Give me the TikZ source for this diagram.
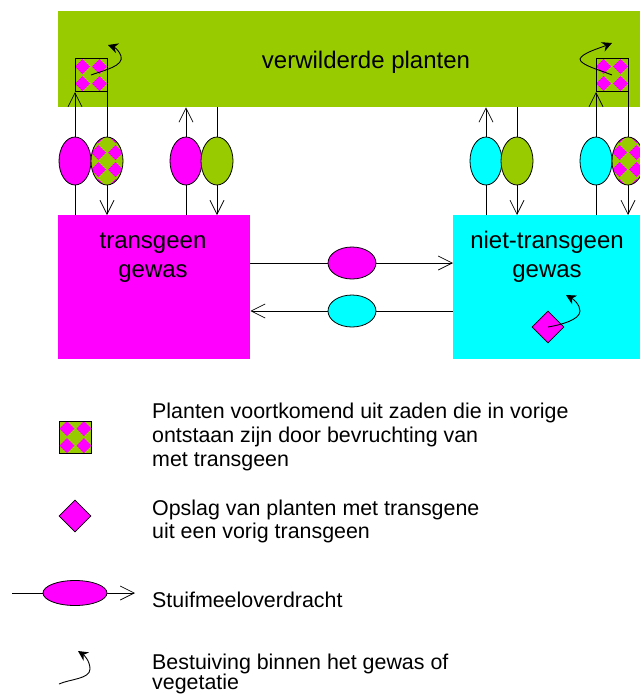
\documentclass[tikz,border=0pt]{standalone}
\usepackage{fontspec}
\setmainfont{Liberation Sans}
\usetikzlibrary{arrows.meta,shapes.geometric}
\definecolor{lgreen}{RGB}{153,204,0}
\definecolor{mag}{RGB}{255,0,255}
\definecolor{cy}{RGB}{0,255,255}
\tikzset{
  area/.style={draw=none, inner sep=0, anchor=north west},
  pollen/.style={ellipse, draw=black, line width=0.8pt, inner sep=0, minimum width=32, minimum height=48},
  pollenh/.style={ellipse, draw=black, line width=0.8pt, inner sep=0, minimum width=48, minimum height=32},
  arr/.style={-{Straight Barb[length=14pt,width=14pt]}, line width=0.7pt},
  plain/.style={line width=0.7pt},
  curl/.style={-{Stealth[length=10pt,width=10pt]}, line width=0.9pt},
  checker/.style={fill=lgreen, path picture={
      \foreach \i in {-3,...,2} \foreach \j in {-3,...,2} {
        \fill[mag, shift={(path picture bounding box.center)}]
          (\i*17+8.5,\j*17+8.5-7.5) -- (\i*17+8.5+7.5,\j*17+8.5) -- (\i*17+8.5,\j*17+8.5+7.5) -- (\i*17+8.5-7.5,\j*17+8.5) -- cycle;
      }}},
  bigtxt/.style={font=\fontsize{24}{29}\selectfont, inner sep=0},
  legtxt/.style={font=\fontsize{21.4}{24}\selectfont, inner sep=0, anchor=base west},
  sqbox/.style={draw=black, line width=1pt, inner sep=0, minimum width=32, minimum height=33, checker},
  dia/.style={diamond, draw=black, line width=0.8pt, fill=mag, inner sep=0, minimum width=32, minimum height=32}
}
\begin{document}
\begin{tikzpicture}[x=1pt,y=-1pt]
\useasboundingbox[fill=white] (0,0) rectangle (640,694);
% areas
\node[area, fill=lgreen, minimum width=582, minimum height=96] (wild) at (58,11) {};
\node[area, fill=mag, minimum width=192, minimum height=144] (tg) at (58,215) {};
\node[area, fill=cy, minimum width=187, minimum height=144] (ntg) at (453,215) {};
% texts
\node[bigtxt, anchor=base] (wildtxt) at (366,68) {verwilderde planten};
\node[bigtxt, anchor=base] (tgtxt1) at (153,248) {transgeen};
\node[bigtxt, anchor=base] (tgtxt2) at (153,277) {gewas};
\node[bigtxt, anchor=base] (ntgtxt1) at (547,248) {niet-transgeen};
\node[bigtxt, anchor=base] (ntgtxt2) at (547,277) {gewas};
% squares in wild area
\node[sqbox] (sq1) at (91,75) {};
\node[sqbox] (sq2) at (612,75) {};
% ellipse positions
\coordinate (c1) at (75,161);
\coordinate (c2) at (107,161);
\coordinate (c3) at (186,161);
\coordinate (c4) at (217,161);
\coordinate (c5) at (486,161);
\coordinate (c6) at (517,161);
\coordinate (c7) at (596,161);
\coordinate (c8) at (628,161);
% vertical connectors
\draw[arr] (c1 |- tg.north) -- (c1 |- sq1.south);
\draw[arr] (c2 |- sq1.south) -- (c2 |- tg.north);
\draw[arr] (c3 |- tg.north) -- (c3 |- wild.south);
\draw[arr] (c4 |- wild.south) -- (c4 |- tg.north);
\draw[arr] (c5 |- ntg.north) -- (c5 |- wild.south);
\draw[arr] (c6 |- wild.south) -- (c6 |- ntg.north);
\draw[arr] (c7 |- ntg.north) -- (c7 |- sq2.south);
\draw[arr] (c8 |- sq2.south) -- (c8 |- ntg.north);
% ellipses
\node[pollen, fill=mag] (e1) at (c1) {};
\node[pollen, checker] (e2) at (c2) {};
\node[pollen, fill=mag] (e3) at (c3) {};
\node[pollen, fill=lgreen] (e4) at (c4) {};
\node[pollen, fill=cy] (e5) at (c5) {};
\node[pollen, fill=lgreen] (e6) at (c6) {};
\node[pollen, fill=cy] (e7) at (c7) {};
\node[pollen, checker] (e8) at (c8) {};
% horizontal transfers
\coordinate (h1) at (352,263);
\coordinate (h2) at (352,311);
\draw[arr] (tg.east |- h1) -- (ntg.west |- h1);
\draw[arr] (ntg.west |- h2) -- (tg.east |- h2);
\node[pollenh, fill=mag] (me1) at (h1) {};
\node[pollenh, fill=cy] (me2) at (h2) {};
% diamond in non-transgenic crop
\node[dia] (d1) at (548,327) {};
% curls
\coordinate (k1) at (108,45);
\coordinate (k2) at (612,43);
\coordinate (k3) at (566,295);
\draw[curl] (sq1.center) .. controls (105,70) and (124,66) .. (121,56) .. controls (119,50) and (114,47) .. (k1);
\draw[curl] (sq2.center) .. controls (600,70) and (580,65) .. (580,59) .. controls (582,53) and (600,48) .. (k2);
\draw[curl] (d1.center) .. controls (560,325) and (580,320) .. (580,311) .. controls (580,304) and (573,299) .. (k3);
% legend
\node[sqbox, minimum height=32] (lsq) at (75.5,437) {};
\node[dia] (ld) at (75,516) {};
\node[ellipse, draw=black, line width=0.8pt, inner sep=0, minimum width=64, minimum height=25, fill=mag] (le) at (75,593) {};
\coordinate (la) at (12,593);
\coordinate (lb) at (135,593);
\draw[plain] (la) -- (le.west);
\draw[arr] (le.east) -- (lb);
\coordinate (lc0) at (59,684);
\coordinate (lc1) at (78,651);
\draw[curl] (lc0) .. controls (70,679) and (90,679) .. (90,669) .. controls (90,661) and (84,655) .. (lc1);
\node[legtxt] (t1) at (152,418) {Planten voortkomend uit zaden die in vorige};
\node[legtxt] (t2) at (152,442) {ontstaan zijn door bevruchting van};
\node[legtxt] (t3) at (152,466) {met transgeen};
\node[legtxt] (t4) at (152,515) {Opslag van planten met transgene};
\node[legtxt] (t5) at (152,538) {uit een vorig transgeen};
\node[legtxt] (t6) at (152,607) {Stuifmeeloverdracht};
\node[legtxt] (t7) at (152,669) {Bestuiving binnen het gewas of};
\node[legtxt] (t8) at (152,689) {vegetatie};
\end{tikzpicture}
\end{document}
